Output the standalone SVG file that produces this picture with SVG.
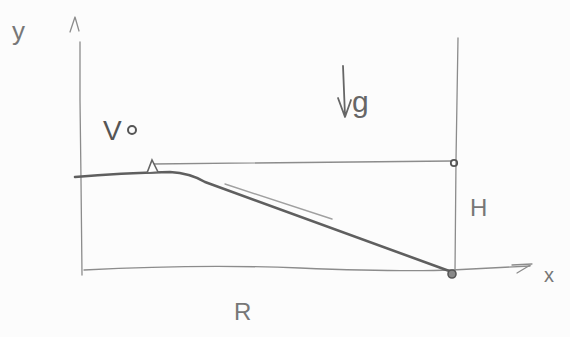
<svg xmlns="http://www.w3.org/2000/svg" width="570" height="337" viewBox="0 0 570 337">
<style>
.pen{fill:none;stroke:#8c8c8c;stroke-width:1.3;stroke-linecap:round;stroke-linejoin:round}
.dark{fill:none;stroke:#5f5f5f;stroke-width:2.6;stroke-linecap:round;stroke-linejoin:round}
.lbl{font-family:"Liberation Sans",Arial,sans-serif;fill:#777;font-weight:normal}
</style>
<rect width="570" height="337" fill="#fcfcfc"/>
<!-- y axis -->
<path class="pen" d="M80,42 L80,100 L81,180 L82,275"/>
<path class="pen" d="M70,32 L75,17 L79,31"/>
<text class="lbl" x="12" y="40" font-size="26">y</text>
<!-- x axis -->
<path class="pen" d="M84,270 Q200,264 300,268 T452,270 L530,266"/>
<path class="pen" d="M512,265 L532,264 L517,273"/>
<text class="lbl" x="544" y="282" font-size="20">x</text>
<!-- right vertical -->
<path class="pen" d="M458,38 L456,160 L455,272"/>
<!-- top horizontal -->
<path class="pen" d="M152,164 L452,161"/>
<circle cx="454" cy="163" r="3.2" fill="none" stroke="#555" stroke-width="1.8"/>
<!-- trajectory -->
<path class="dark" d="M75,177 Q120,173 170,172 Q190,173 205,182 L452,272"/>
<path fill="none" stroke="#a0a0a0" stroke-width="1.4" stroke-linecap="round" d="M225,184 L332,219"/>
<path fill="#fff" stroke="#666" stroke-width="1.6" d="M147,173 L152,160 L158,172 Z"/>
<circle cx="452" cy="274" r="4" fill="#888" stroke="#555" stroke-width="1.6"/>
<!-- labels -->
<text class="lbl" x="103" y="140" font-size="28" style="fill:#555">V</text>
<circle cx="132" cy="130" r="4" fill="none" stroke="#555" stroke-width="2"/>
<path class="pen" style="stroke:#666;stroke-width:1.8" d="M343,66 L345,116 M338,98 L345,117 L351,100"/>
<text class="lbl" x="352" y="112" font-size="30" style="fill:#666">g</text>
<text class="lbl" x="470" y="216" font-size="24">H</text>
<text class="lbl" x="234" y="320" font-size="24">R</text>
</svg>
